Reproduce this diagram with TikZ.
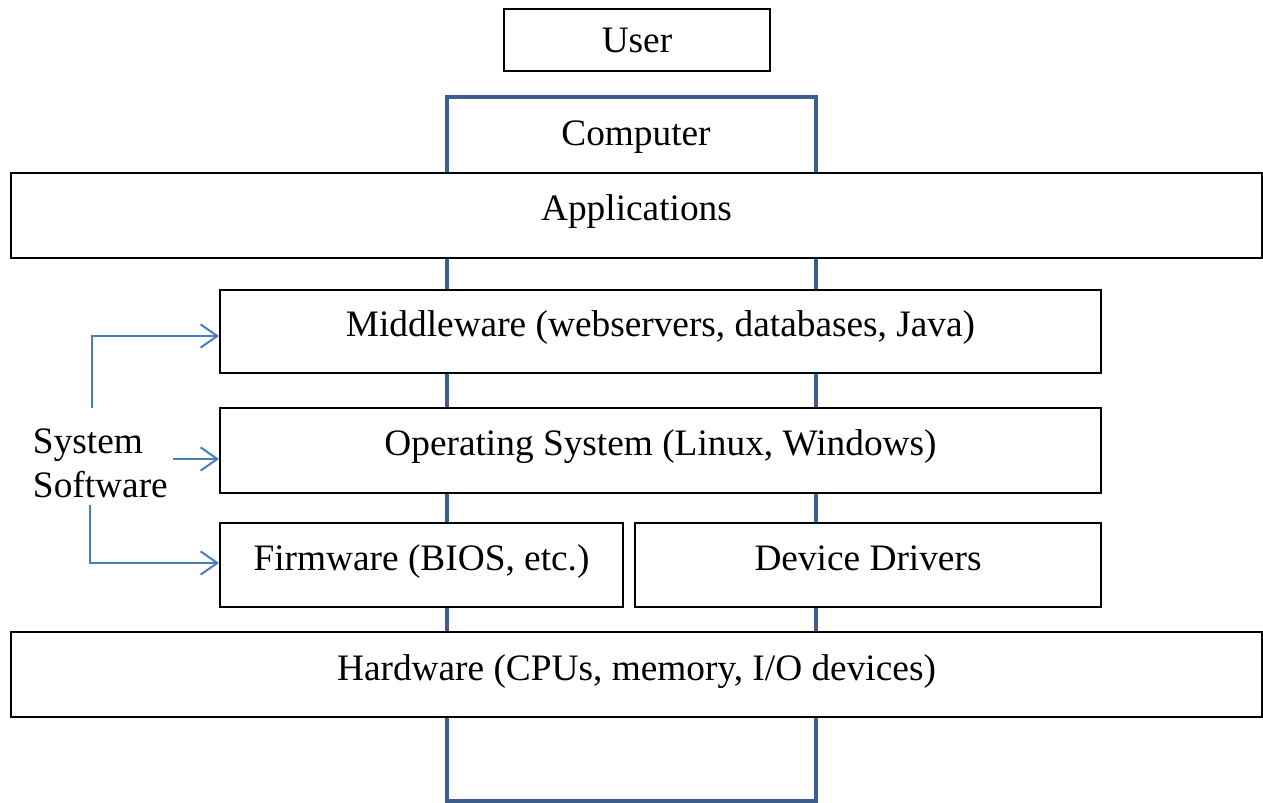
\documentclass[tikz,border=0pt]{standalone}
\usepackage{fontspec}
\setmainfont{Liberation Serif}
\usetikzlibrary{arrows.meta}
\definecolor{framecol}{HTML}{3B5E8C}
\definecolor{arrowcol}{HTML}{4A7EBB}

\begin{document}
\begin{tikzpicture}[x=0.3pt, y=-0.3pt, line width=0.6pt,
  layer/.style={draw, fill=white, inner sep=0pt, anchor=center, text height=6pt, text depth=2.7pt},
  every node/.append style={font=\fontsize{11.2}{13.2}\selectfont}]
\useasboundingbox (0,0) rectangle (1263,803);

% Rahmen des Rechners
\node[draw=framecol, line width=1.2pt, minimum width=110.7pt, minimum height=211.2pt] (computer) at (631.5,449) {};

\path [every node/.append style={layer}]
  node[minimum width=79.8pt, minimum height=18.6pt, text height=7.4pt, text depth=0pt] (user) at (637,40) {User}
  node[draw=none, fill=none, text height=7.4pt, text depth=0pt] (computerlbl) at (636,133.5) {Computer}
  node[minimum width=375.3pt, minimum height=25.5pt] (apps) at (636.5,215.5) {Applications}
  node[minimum width=264.3pt, minimum height=24.9pt] (mw) at (660.5,331.5) {Middleware (webservers, databases, Java)}
  node[minimum width=264.3pt, minimum height=25.5pt] (os) at (660.5,450.5) {Operating System (Linux, Windows)}
  node[minimum width=120.9pt, minimum height=25.2pt] (fw) at (421.5,565) {Firmware (BIOS, etc.)}
  node[minimum width=139.8pt, minimum height=25.2pt] (drv) at (868,565) {Device Drivers}
  node[minimum width=375.3pt, minimum height=25.5pt] (hw) at (636.5,674.5) {Hardware (CPUs, memory, I/O devices)};

\node[anchor=west, align=left, inner sep=0pt] (sys) at (32,463) {System\\Software};

\coordinate (ss-up) at (92,408);
\coordinate (ss-mid) at (173,459);
\coordinate (ss-down) at (90,505);

\begin{scope}[arrowcol, -{Straight Barb[length=5pt, width=7pt]}]
	% nach oben
	\draw (ss-up) |- ([yshift=-1.35pt]mw.west);
	% geradeaus
	\draw (ss-mid) -- (ss-mid -| os.west);
	% nach unten
	\draw (ss-down) |- ([yshift=0.6pt]fw.west);
\end{scope}

\end{tikzpicture}
\end{document}
